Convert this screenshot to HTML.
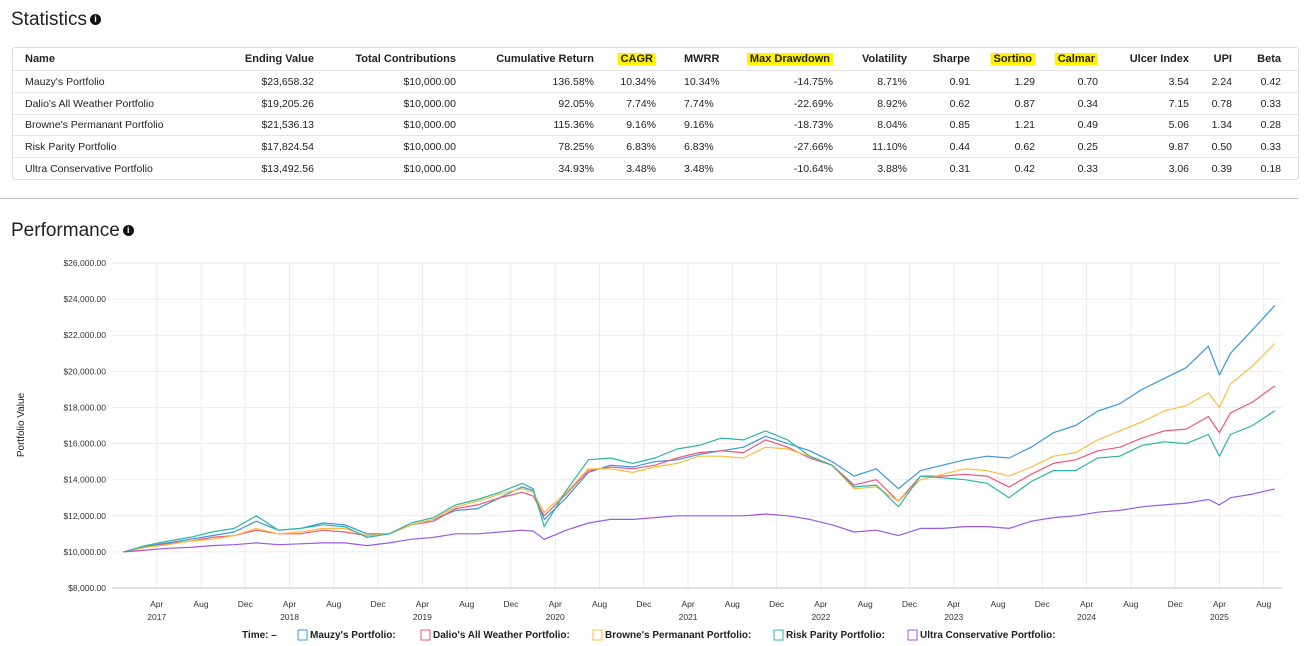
<!DOCTYPE html>
<html><head><meta charset="utf-8"><style>
body{margin:0;width:1308px;height:646px;background:#fff;font-family:"Liberation Sans",sans-serif;color:#222;position:relative;overflow:hidden}
.abs{position:absolute}
h2{position:absolute;margin:0;font-weight:400;font-size:19px;color:#222}
.info{display:inline-block;width:11px;height:11px;border-radius:50%;background:#111;color:#fff;font-size:9px;line-height:11px;text-align:center;font-weight:bold;vertical-align:3px;margin-left:3px}
#tbl{position:absolute;left:12px;top:47px;width:1285px;height:131px;border:1px solid #ddd;border-radius:3px;font-size:10.5px}
.row{position:absolute;left:0;width:100%;height:22px;border-bottom:1px solid #e4e4e4}
.c{position:absolute;top:6px;white-space:nowrap}
.r{transform:translateX(-100%)}
.hl{background:#fff200;padding:0 3px}
</style></head><body>
<h2 style="left:11px;top:9px">Statistics<span class="info">i</span></h2>
<div id="tbl"></div>
<div class="abs" style="left:0;top:198px;width:1298px;height:1px;background:#bbb"></div>
<h2 style="left:11px;top:220px">Performance<span class="info">i</span></h2>
<svg id="chart" class="abs" style="left:0;top:0" width="1308" height="646"></svg>
<script>
const headers=["Name","Ending Value","Total Contributions","Cumulative Return","CAGR","MWRR","Max Drawdown","Volatility","Sharpe","Sortino","Calmar","Ulcer Index","UPI","Beta"];
const rows=[
["Mauzy's Portfolio","$23,658.32","$10,000.00","136.58%","10.34%","10.34%","-14.75%","8.71%","0.91","1.29","0.70","3.54","2.24","0.42"],
["Dalio's All Weather Portfolio","$19,205.26","$10,000.00","92.05%","7.74%","7.74%","-22.69%","8.92%","0.62","0.87","0.34","7.15","0.78","0.33"],
["Browne's Permanant Portfolio","$21,536.13","$10,000.00","115.36%","9.16%","9.16%","-18.73%","8.04%","0.85","1.21","0.49","5.06","1.34","0.28"],
["Risk Parity Portfolio","$17,824.54","$10,000.00","78.25%","6.83%","6.83%","-27.66%","11.10%","0.44","0.62","0.25","9.87","0.50","0.33"],
["Ultra Conservative Portfolio","$13,492.56","$10,000.00","34.93%","3.48%","3.48%","-10.64%","3.88%","0.31","0.42","0.33","3.06","0.39","0.18"]];
const colX=[12,301,443,581,643,671,820,894,957,1022,1085,1176,1219,1268];
const colAlign=["l","r","r","r","r","l","r","r","r","r","r","r","r","r"];
const hlCols=[4,6,9,10];
const tbl=document.getElementById('tbl');
function mkRow(vals,i,hdr){
  const r=document.createElement('div');r.className='row';r.style.top=(i*21.8)+'px';
  if(i===4+1)r.style.borderBottom='none';
  
  
  vals.forEach((v,j)=>{const c=document.createElement('div');
    c.className='c'+(colAlign[j]==='r'?' r':'');c.style.left=colX[j]+'px';
    if(hdr){c.style.fontWeight='600';c.style.fontSize='11px';c.style.top='5px'}
    if(hdr&&hlCols.includes(j))c.innerHTML='<span class="hl">'+v+'</span>';else c.textContent=v;
    
    
    r.appendChild(c);});
  tbl.appendChild(r);}
mkRow(headers,0,true);rows.forEach((v,i)=>mkRow(v,i+1,false));

const months=[0,2,4,6,8,10,12,14,16,18,20,22,24,26,28,30,32,34,36,37,38,40,42,44,46,48,50,52,54,56,58,60,62,64,66,68,70,72,74,76,78,80,82,84,86,88,90,92,94,96,98,99,100,102,104];
const mauzy=[10000,10300,10500,10700,10900,11100,11700,11200,11300,11600,11500,11000,11000,11500,11800,12300,12400,13000,13600,13400,11800,13000,14400,14800,14700,15000,15100,15400,15600,15800,16400,16000,15600,15000,14200,14600,13500,14500,14800,15100,15300,15200,15800,16600,17000,17800,18200,19000,19600,20200,21400,19800,21000,22300,23650];
const dalio=[10000,10250,10450,10600,10800,10900,11200,11000,11000,11200,11100,10900,11000,11500,11700,12400,12600,13000,13300,13100,12000,13200,14500,14700,14600,14800,15200,15500,15600,15500,16200,15800,15200,14800,13700,14000,12800,14200,14200,14300,14200,13600,14300,14900,15100,15600,15800,16300,16700,16800,17500,16600,17700,18300,19200];
const browne=[10000,10250,10400,10600,10700,10900,11300,11000,11100,11300,11300,10900,11000,11500,11800,12500,12800,13200,13500,13300,12200,13300,14600,14600,14400,14700,14900,15300,15300,15200,15800,15700,15300,14800,13500,13600,12800,14000,14300,14600,14500,14200,14700,15300,15500,16200,16700,17200,17800,18100,18800,18000,19300,20300,21540];
const riskParity=[10000,10350,10600,10800,11100,11300,12000,11200,11300,11500,11400,10800,11000,11600,11900,12600,12900,13300,13800,13500,11400,13400,15100,15200,14900,15200,15700,15900,16300,16200,16700,16200,15300,14800,13600,13700,12500,14200,14100,14000,13800,13000,13900,14500,14500,15200,15300,15900,16100,16000,16500,15300,16500,17000,17820];
const ultra=[10000,10100,10200,10250,10350,10400,10500,10400,10450,10500,10500,10350,10500,10700,10800,11000,11000,11100,11200,11150,10700,11200,11600,11800,11800,11900,12000,12000,12000,12000,12100,12000,11800,11500,11100,11200,10900,11300,11300,11400,11400,11300,11700,11900,12000,12200,12300,12500,12600,12700,12900,12600,13000,13200,13490];
const yTicks=[8000,10000,12000,14000,16000,18000,20000,22000,24000,26000];
const xTickMonths=[3,7,11,15,19,23,27,31,35,39,43,47,51,55,59,63,67,71,75,79,83,87,91,95,99,103];
const xTickLabels=["Apr","Aug","Dec"];
const series=[["Mauzy's Portfolio",mauzy,"#3a96dd"],["Dalio's All Weather Portfolio",dalio,"#f2557a"],["Browne's Permanant Portfolio",browne,"#fbbd3c"],["Risk Parity Portfolio",riskParity,"#2bb5a8"],["Ultra Conservative Portfolio",ultra,"#9b59e6"]];

const X=m=>123.5+m*11.07, Y=v=>588-(v-8000)*(325/18000);
const svg=document.getElementById('chart');const NS='http://www.w3.org/2000/svg';
function el(t,a,txt){const e=document.createElementNS(NS,t);for(const k in a)e.setAttribute(k,a[k]);if(txt!=null)e.textContent=txt;svg.appendChild(e);return e;}
xTickMonths.forEach(m=>{const g=el('line',{x1:X(m),x2:X(m),y1:263,y2:590,stroke:'#ececec','stroke-width':1});
});
yTicks.forEach(v=>{const g=el('line',{x1:112,x2:1282,y1:Y(v),y2:Y(v),stroke:v===8000?'#e2e2e2':'#ececec','stroke-width':v===8000?2:1});

const t=el('text',{x:106,y:Y(v)+3,'text-anchor':'end','font-size':'8.5px',fill:'#333'},'$'+v.toLocaleString('en-US')+'.00');
});
xTickMonths.forEach((m,i)=>{const t=el('text',{x:X(m),y:607,'text-anchor':'middle','font-size':'8.5px',fill:'#333'},xTickLabels[i%3]);

if(i%3===0){const y=el('text',{x:X(m),y:620,'text-anchor':'middle','font-size':'8.5px',fill:'#333'},String(2017+i/3));
}});
const yt=el('text',{x:24,y:425,'text-anchor':'middle','font-size':'10px',fill:'#222',transform:'rotate(-90 24 425)'},'Portfolio Value');

series.forEach(s=>{const d=s[1].map((v,i)=>(i?'L':'M')+X(months[i]).toFixed(1)+','+Y(v).toFixed(1)).join('');
const p=el('path',{d:d,fill:'none',stroke:s[2],'stroke-width':1.2,'stroke-linejoin':'round'});
});
// legend
const lt=el('text',{x:242,y:638,'font-size':'10px','font-weight':'bold',fill:'#222'},'Time:  –');

const lx=[298,421,593,774,908];
series.forEach((s,i)=>{const r=el('rect',{x:lx[i],y:630,width:9,height:10,fill:'none',stroke:s[2],'stroke-width':1});

const t=el('text',{x:lx[i]+12,y:638,'font-size':'10px','font-weight':'bold',fill:'#222'},s[0]+':');
});
</script>
</body></html>
